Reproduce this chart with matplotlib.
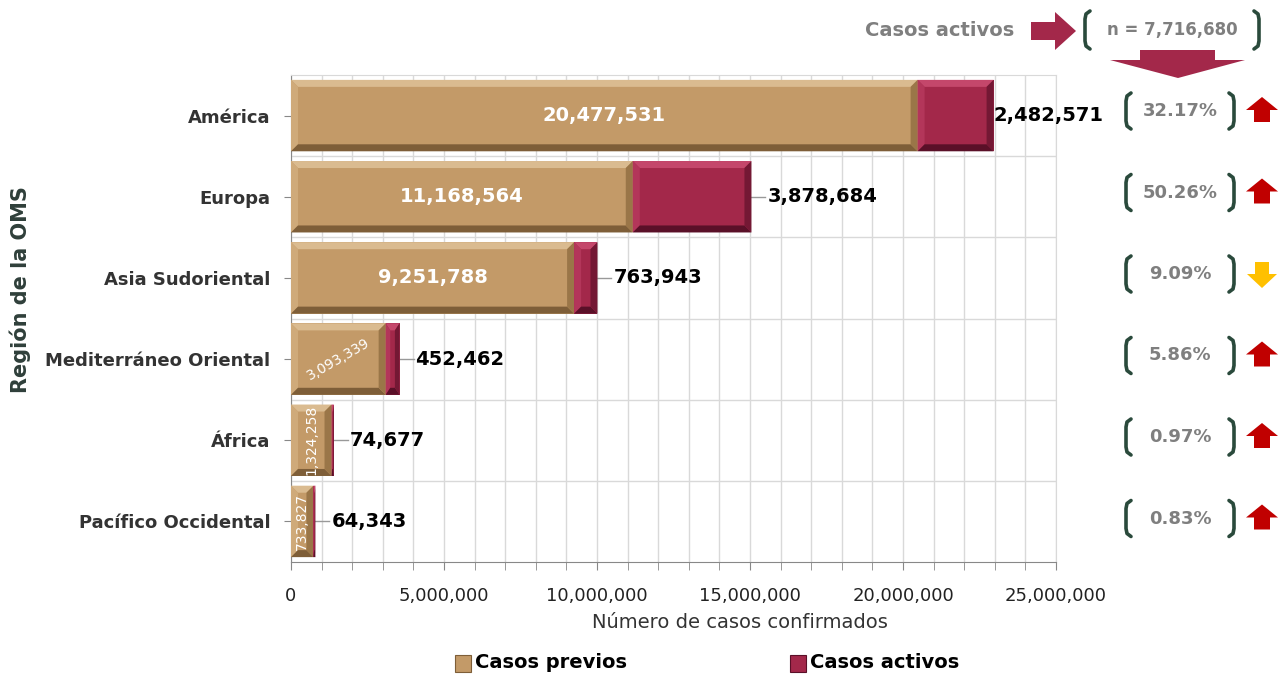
import numpy as np
import matplotlib.pyplot as plt
from matplotlib.patches import Polygon, Rectangle
from matplotlib.lines import Line2D

regiones = ['América', 'Europa', 'Asia Sudoriental', 'Mediterráneo Oriental',
            'África', 'Pacífico Occidental']
previos = [20477531, 11168564, 9251788, 3093339, 1324258, 733827]
activos = [2482571, 3878684, 763943, 452462, 74677, 64343]
porcentajes = ['32.17%', '50.26%', '9.09%', '5.86%', '0.97%', '0.83%']
tendencia = ['up', 'up', 'down', 'up', 'up', 'up']
total_activos = 'n = 7,716,680'

# label rotation for the "previos" values inside the bars
rot_previos = [0, 0, 0, 30, 90, 90]
size_previos = [14, 14, 14, 10, 10, 10]

W, H = 1288, 677
# base, top, left, bottom, right shades
TAN = ['#C39A68', '#DABB90', '#CFAA7A', '#7E5E38', '#9A7648']
MAR = ['#A3284A', '#C4476B', '#B3365A', '#5A1028', '#741834']

fig = plt.figure(figsize=(W / 100, H / 100), dpi=100)
ax = fig.add_axes([291 / W, 1 - 562 / H, (1056 - 291) / W, (562 - 75) / H])

y = np.arange(len(regiones))
xmax = 25_000_000
ax.set_xlim(0, xmax)
ax.set_ylim(len(regiones) - 0.5, -0.5)

# px -> data units
ppx = xmax / (1056 - 291)
ppy = len(regiones) / (562 - 75)
bh = 0.88


def bevel_bar(x0, width, yc, shades):
    base, top, left, bottom, right = shades
    y0, y1 = yc - bh / 2, yc + bh / 2   # y0 is visually the top (inverted axis)
    x1 = x0 + width
    bx = min(7 * ppx, width / 3)
    by = 7 * ppy
    ax.add_patch(Rectangle((x0, y0), width, bh, facecolor=base, edgecolor='none', zorder=3))
    faces = [
        ([(x0, y0), (x1, y0), (x1 - bx, y0 + by), (x0 + bx, y0 + by)], top),
        ([(x0, y0), (x0 + bx, y0 + by), (x0 + bx, y1 - by), (x0, y1)], left),
        ([(x0, y1), (x0 + bx, y1 - by), (x1 - bx, y1 - by), (x1, y1)], bottom),
        ([(x1, y0), (x1, y1), (x1 - bx, y1 - by), (x1 - bx, y0 + by)], right),
    ]
    for pts, c in faces:
        ax.add_patch(Polygon(pts, closed=True, facecolor=c, edgecolor='none', zorder=3))


for i in range(len(regiones)):
    bevel_bar(0, previos[i], y[i], TAN)
    bevel_bar(previos[i], activos[i], y[i], MAR)
    ax.text(previos[i] / 2, y[i], f'{previos[i]:,}', ha='center', va='center',
            rotation=rot_previos[i], color='white', fontsize=size_previos[i],
            fontweight='bold' if i < 3 else 'normal', zorder=5)
    end = previos[i] + activos[i]
    off = 0 if i == 0 else 16
    if off:
        ax.plot([end, end + 14 * ppx], [y[i], y[i]], color='#999999', lw=1, zorder=2)
    ax.annotate(f'{activos[i]:,}', (end, y[i]), xytext=(off, 0),
                textcoords='offset pixels', ha='left', va='center', fontsize=14,
                fontweight='bold', color='black', zorder=5)

# grid
ax.set_xticks(np.arange(0, xmax + 1, 5_000_000))
ax.set_xticks(np.arange(0, xmax + 1, 1_000_000), minor=True)
ax.set_xticklabels([f'{v:,}' for v in np.arange(0, xmax + 1, 5_000_000)])
ax.grid(axis='x', which='both', color='#d9d9d9', lw=1, zorder=0)
for b in np.arange(0.5, len(regiones) - 0.5, 1):
    ax.axhline(b, color='#d9d9d9', lw=1, zorder=0)
ax.set_yticks(y)
ax.set_yticklabels(regiones, fontsize=13, fontweight='bold', color='#333333')
ax.tick_params(axis='y', length=5, color='#888888', pad=10)
ax.tick_params(axis='x', which='both', length=6, color='#888888', labelsize=13,
               labelcolor='#222222', pad=12)
for s in ['top', 'right']:
    ax.spines[s].set_color('#d9d9d9')
for s in ['left', 'bottom']:
    ax.spines[s].set_color('#888888')

fig.text(740 / W, 1 - 622 / H, 'Número de casos confirmados', ha='center', va='center',
         fontsize=14, color='#333333')
fig.text(20 / W, 1 - 290 / H, 'Región de la OMS', rotation=90, ha='center', va='center',
         fontsize=15, fontweight='bold', color='#2f3f3a')

# legend
for xs, col, lab in [(455, TAN, 'Casos previos'), (790, MAR, 'Casos activos')]:
    fig.patches.append(Rectangle((xs / W, 1 - 672 / H), 16 / W, 17 / H, facecolor=col[0],
                                 edgecolor=col[3], lw=0.8, transform=fig.transFigure))
    fig.text((xs + 20) / W, 1 - 663 / H, lab, ha='left', va='center', fontsize=14,
             fontweight='bold', color='black')


def poly_px(pts, color):
    p = [(px / W, 1 - py / H) for px, py in pts]
    fig.patches.append(Polygon(p, closed=True, facecolor=color, edgecolor='none',
                               transform=fig.transFigure))


BR = '#2a4a3c'


def line_px(pts):
    xs = [px / W for px, _ in pts]
    ys = [1 - py / H for _, py in pts]
    fig.lines.append(Line2D(xs, ys, color=BR, lw=2.6, solid_capstyle='round',
                            solid_joinstyle='round', transform=fig.transFigure))


def bracket_text(xc, yc, text, half=70, hh=18, fs=13.5):
    xl, xr = xc - half, xc + half
    line_px([(xl + 5, yc - hh), (xl + 1, yc - hh + 3), (xl, yc - hh + 8), (xl, yc + hh - 8),
             (xl + 1, yc + hh - 3), (xl + 5, yc + hh)])
    line_px([(xr - 5, yc - hh), (xr - 1, yc - hh + 3), (xr, yc - hh + 8), (xr, yc + hh - 8),
             (xr - 1, yc + hh - 3), (xr - 5, yc + hh)])
    fig.text(xc / W, 1 - yc / H, text, ha='center', va='center', fontsize=fs,
             fontweight='bold', color='#7f7f7f')


# header: casos activos total
fig.text(940 / W, 1 - 30 / H, 'Casos activos', ha='center', va='center', fontsize=14,
         fontweight='bold', color='#7f7f7f')
poly_px([(1031, 22), (1055, 22), (1055, 12), (1076, 31), (1055, 50), (1055, 40), (1031, 40)], MAR[0])
bracket_text(1172, 30, total_activos, half=87, hh=19, fs=12)
poly_px([(1140, 50), (1215, 50), (1215, 60), (1245, 60), (1178, 78), (1110, 60), (1140, 60)], MAR[0])

# per-region share of active cases
for i in range(len(regiones)):
    yc = 111 + i * 81.5
    bracket_text(1180, yc, porcentajes[i], half=54, hh=18, fs=13)
    xa = 1262
    if tendencia[i] == 'up':
        poly_px([(xa, yc - 14), (xa + 16, yc - 1), (xa + 8, yc - 1), (xa + 8, yc + 11),
                 (xa - 8, yc + 11), (xa - 8, yc - 1), (xa - 16, yc - 1)], '#C00000')
    else:
        poly_px([(xa - 7, yc - 12), (xa + 7, yc - 12), (xa + 7, yc), (xa + 15, yc),
                 (xa, yc + 14), (xa - 15, yc), (xa - 7, yc)], '#FFC000')

fig.savefig('out.png', dpi=100)
